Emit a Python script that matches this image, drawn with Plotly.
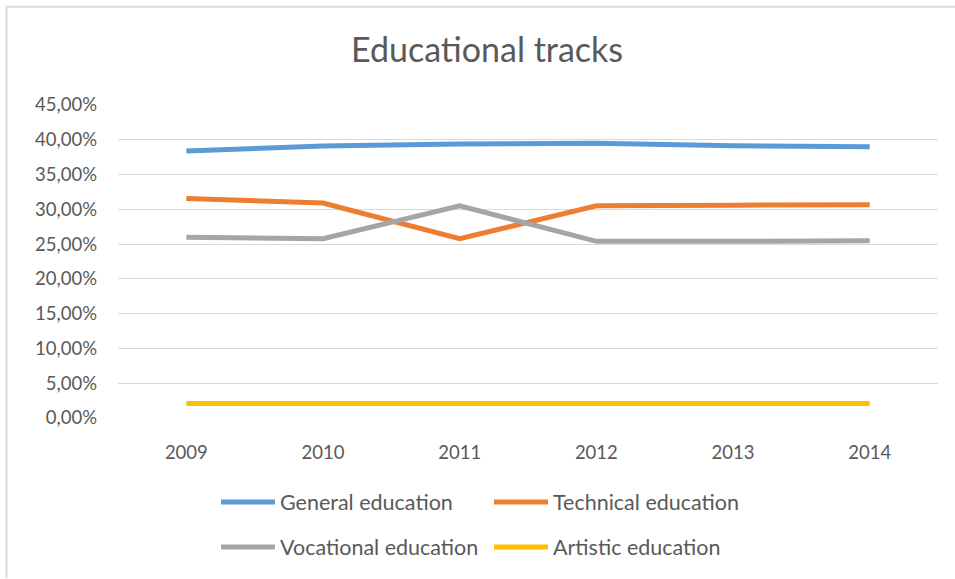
import plotly.graph_objects as go

years = ["2009", "2010", "2011", "2012", "2013", "2014"]
general = [0.384, 0.391, 0.394, 0.395, 0.3915, 0.390]
technical = [0.3155, 0.309, 0.2577, 0.305, 0.306, 0.3065]
vocational = [0.260, 0.2577, 0.305, 0.254, 0.254, 0.255]
artistic = [0.021, 0.021, 0.021, 0.021, 0.021, 0.021]

series = [
    ("General education", general, "#5B9BD5", "legend"),
    ("Technical education", technical, "#ED7D31", "legend"),
    ("Vocational education", vocational, "#A5A5A5", "legend2"),
    ("Artistic education", artistic, "#FFC000", "legend2"),
]

FONT = "Lato, 'Open Sans', sans-serif"
TXT = "#595959"

fig = go.Figure()
for name, vals, color, leg in series:
    fig.add_trace(go.Scatter(
        x=years, y=vals, name=name, mode="lines",
        line=dict(color=color, width=5),
        legend=leg,
    ))

legend_common = dict(
    orientation="h", xref="container", yref="container",
    xanchor="left", yanchor="middle",
    font=dict(family=FONT, size=21.5, color=TXT),
    itemwidth=54, entrywidth=204, bgcolor="rgba(0,0,0,0)",
    traceorder="normal",
)

fig.update_layout(
    width=955, height=579,
    margin=dict(l=118, r=17, t=105, b=160.5),
    paper_bgcolor="white", plot_bgcolor="white",
    separators=", ",
    font=dict(family=FONT, color=TXT),
    title=dict(text="Educational tracks", x=0.51, xanchor="center",
               y=1 - 50 / 579, yanchor="middle", yref="container",
               font=dict(family=FONT, size=34, color=TXT)),
    xaxis=dict(type="category", range=[-0.5, 5.5], showgrid=False,
               showline=False, zeroline=False, ticks="",
               tickfont=dict(family=FONT, size=18.5, color=TXT),
               ticklabelstandoff=21),
    yaxis=dict(range=[0, 0.45], dtick=0.05, tickformat=".2%",
               showgrid=True, gridcolor="#D9D9D9", gridwidth=1,
               zeroline=False, showline=False, ticks="",
               tickfont=dict(family=FONT, size=18.5, color=TXT),
               ticklabelstandoff=20),
    legend=dict(**legend_common, x=216 / 955, y=1 - 502 / 579),
    legend2=dict(**legend_common, x=216 / 955, y=1 - 547 / 579),
)

# chart-area border along the top and left edges
fig.add_shape(type="line", xref="paper", yref="paper",
              x0=-112 / 820, x1=1 + 17 / 820, y0=1 + 98.5 / 313.5, y1=1 + 98.5 / 313.5,
              line=dict(color="#D9D9D9", width=2))
fig.add_shape(type="line", xref="paper", yref="paper",
              x0=-111.5 / 820, x1=-111.5 / 820, y0=1 + 98.5 / 313.5, y1=-160.5 / 313.5,
              line=dict(color="#D9D9D9", width=2))

fig.write_html("out.html")
